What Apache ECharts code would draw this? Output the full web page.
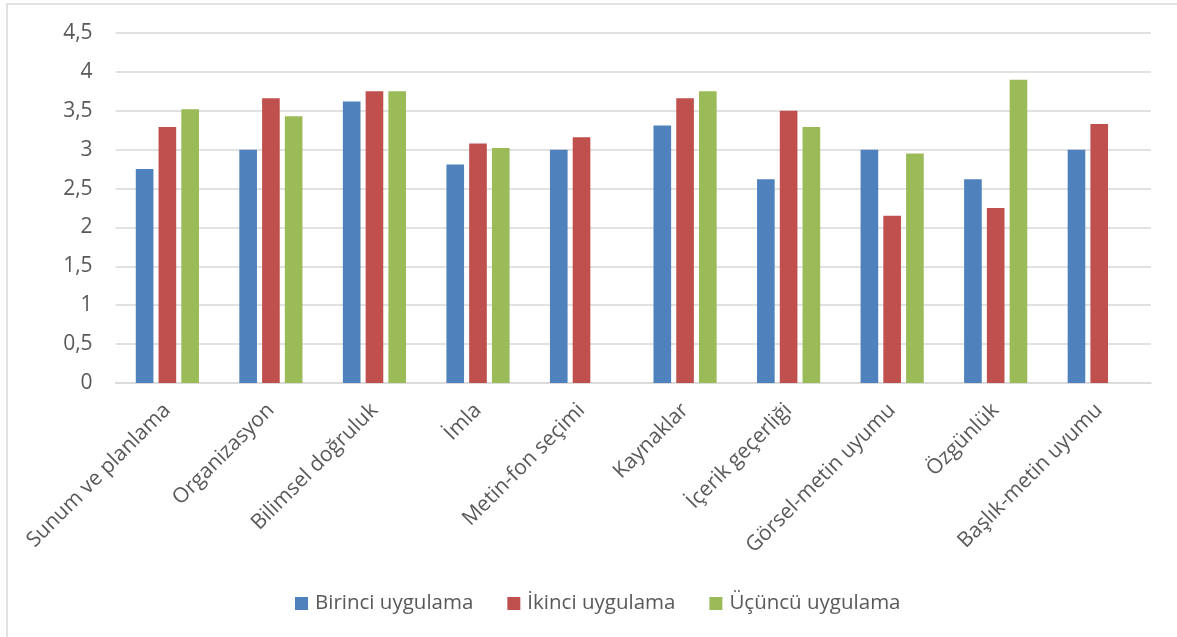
<!DOCTYPE html>
<html>
<head>
<meta charset="utf-8">
<script src="https://cdn.jsdelivr.net/npm/echarts@6/dist/echarts.min.js"></script>
<style>
  html, body { margin: 0; padding: 0; background: #fff; }
  #chart { width: 1177px; height: 637px; }
</style>
</head>
<body>
<div id="chart"></div>
<script>
// Rubric criteria (x axis)
const categories = [
  'Sunum ve planlama', 'Organizasyon', 'Bilimsel doğruluk', 'İmla', 'Metin-fon seçimi',
  'Kaynaklar', 'İçerik geçerliği', 'Görsel-metin uyumu', 'Özgünlük', 'Başlık-metin uyumu'
];

// Mean scores per application round
const birinci = [2.75, 3.00, 3.62, 2.81, 3.00, 3.31, 2.62, 3.00, 2.62, 3.00];
const ikinci  = [3.29, 3.66, 3.75, 3.08, 3.16, 3.66, 3.50, 2.15, 2.25, 3.33];
const ucuncu  = [3.52, 3.43, 3.75, 3.02, null, 3.75, 3.29, 2.95, 3.90, null];

const seriesNames = ['Birinci uygulama', 'İkinci uygulama', 'Üçüncü uygulama'];
const yTicks = { min: 0, max: 4.5, step: 0.5 };

const FONT = '"Open Sans", "DejaVu Sans", sans-serif';
const TEXT = '#595959';
const GRID = '#D9D9D9';
const colors = ['#4F81BD', '#C0504D', '#9BBB59'];

const chart = echarts.init(document.getElementById('chart'), null, { renderer: 'canvas' });

function barSeries(name, data, color) {
  return {
    name: name,
    type: 'bar',
    data: data,
    barGap: '29%',
    barCategoryGap: '39%',
    itemStyle: { color: color },
    emphasis: { disabled: true }
  };
}

chart.setOption({
  animation: false,
  backgroundColor: '#ffffff',
  textStyle: { fontFamily: FONT, color: TEXT },
  graphic: [{
    type: 'rect',
    shape: { x: 7, y: 4, width: 1200, height: 700 },
    style: { fill: 'none', stroke: GRID, lineWidth: 1.5 },
    silent: true
  }],
  grid: { left: 115.6, right: 26, top: 33, bottom: 254, containLabel: false },
  legend: {
    data: seriesNames,
    left: 290,
    top: 588,
    itemWidth: 13,
    itemHeight: 13,
    itemGap: 34,
    icon: 'rect',
    textStyle: { fontFamily: FONT, fontSize: 20.5, color: TEXT, padding: [0, 0, 0, 2] }
  },
  xAxis: {
    type: 'category',
    data: categories,
    axisLine: { show: true, lineStyle: { color: GRID, width: 1.5 } },
    axisTick: { show: false },
    axisLabel: {
      rotate: 45,
      interval: 0,
      margin: 24,
      fontFamily: FONT,
      fontSize: 21,
      color: TEXT
    },
    splitLine: { show: false }
  },
  yAxis: {
    type: 'value',
    min: yTicks.min,
    max: yTicks.max,
    interval: yTicks.step,
    axisLine: { show: false },
    axisTick: { show: false },
    axisLabel: {
      margin: 23,
      fontFamily: FONT,
      fontSize: 21,
      color: TEXT,
      formatter: v => String(v).replace('.', ',')
    },
    splitLine: { lineStyle: { color: GRID, width: 1.5 } }
  },
  series: [
    barSeries(seriesNames[0], birinci, colors[0]),
    barSeries(seriesNames[1], ikinci, colors[1]),
    barSeries(seriesNames[2], ucuncu, colors[2])
  ]
});
</script>
</body>
</html>
